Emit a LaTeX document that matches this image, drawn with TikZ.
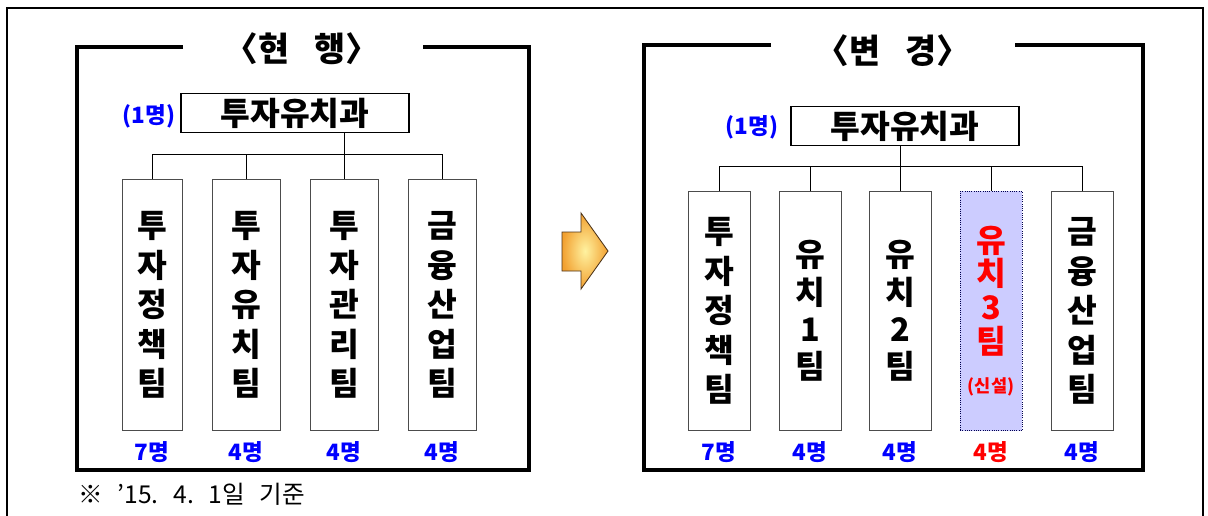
\documentclass[tikz,border=0pt]{standalone}
\usepackage{fontspec}
\newfontfamily\kr{Noto Sans CJK KR}
\definecolor{newfill}{RGB}{204,204,255}
\definecolor{arrowin}{RGB}{255,242,160}
\definecolor{arrowout}{RGB}{242,160,48}

\begin{document}
\begin{tikzpicture}[x=0.025cm, y=-0.025cm,
    team/.style={draw=black!70, line width=0.6pt, fill=white, inner sep=0pt,
        minimum width=1.55cm, align=center, font=\kr\bfseries\fontsize{23}{28}\selectfont},
    head/.style={draw=black, line width=1.1pt, minimum width=5.7cm, minimum height=0.98cm,
        inner sep=0pt, font=\kr\bfseries\fontsize{23}{28}\selectfont},
    cnt/.style={text=blue, inner sep=0pt, font=\kr\bfseries\fontsize{16}{18}\selectfont},
    title/.style={inner sep=0pt, font=\kr\bfseries\fontsize{24}{28}\selectfont},
    panel/.style={line width=2.2pt},
    tree/.style={line width=0.7pt}]
    \useasboundingbox (0,0) rectangle (1208,515);
    %% outer frame
    \draw[line width=0.8pt] (7,530) -- (7,8) -- (1203,8) -- (1203,530);

    %% current organisation
    \draw[panel] (183,47) -- (77,47) -- (77,470) -- (529,470) -- (529,47) -- (423,47);
    \node[title] (curtitle) at (302,49) {〈현\hspace{0.75em}행〉};
    \node[head] (curhead) at (295,113) {투자유치과};
    \node[cnt] (curhc) at (149,116) {(1명)};
    \node[team, minimum width=1.5cm, minimum height=6.275cm] (cur1) at (152,305) {투\\자\\정\\책\\팀};
    \node[team, minimum width=1.7cm, minimum height=6.275cm] (cur2) at (246,305) {투\\자\\유\\치\\팀};
    \node[team, minimum width=1.7cm, minimum height=6.275cm] (cur3) at (344,305) {투\\자\\관\\리\\팀};
    \node[team, minimum width=1.7cm, minimum height=6.275cm] (cur4) at (442,305) {금\\융\\산\\업\\팀};
    % tree drops from the head over the third team
    \coordinate (curbar) at (344,154);
    \draw[tree] (curhead.south -| curbar) -- (cur3.north);
    \foreach \b in {cur1,cur2,cur4}
        \draw[tree] (\b.north) |- (curbar);
    \node[cnt] (curn1) at (152,452) {7명};
    \node[cnt] (curn2) at (246,452) {4명};
    \node[cnt] (curn3) at (344,452) {4명};
    \node[cnt] (curn4) at (442,452) {4명};

    %% arrow
    \shadedraw[draw=black!60!brown, line width=0.6pt, inner color=arrowin, outer color=arrowout]
        (562,232) -- (581,232) -- (581,213) -- (608,251) -- (581,289) -- (581,271) -- (562,271) -- cycle;

    %% changed organisation
    \draw[panel] (771,45) -- (644,45) -- (644,470) -- (1143,470) -- (1143,45) -- (1015,45);
    \node[title] (newtitle) at (893,51) {〈변\hspace{0.75em}경〉};
    \node[head] (newhead) at (905,126) {투자유치과};
    \node[cnt] (newhc) at (752,127) {(1명)};
    \node[team, minimum height=5.975cm] (new1) at (719,311) {투\\자\\정\\책\\팀};
    \node[team, minimum height=5.975cm, font=\kr\bfseries\fontsize{23}{26.5}\selectfont] (new2) at (810,311) {유\\치\\1\\팀};
    \node[team, minimum height=5.975cm, font=\kr\bfseries\fontsize{23}{26.5}\selectfont] (new3) at (900,311) {유\\치\\2\\팀};
    \node[team, minimum height=5.975cm, fill=newfill, draw=blue!30!black, densely dotted, text=red,
        font=\kr\bfseries\fontsize{23}{24}\selectfont] (new4) at (991,311)
        {유\\치\\3\\팀\\[4pt]{\fontsize{12.5}{14}\selectfont(신설)}};
    \node[team, minimum height=5.975cm] (new5) at (1082,311) {금\\융\\산\\업\\팀};
    \coordinate (newbar) at (900,166);
    \draw[tree] (newhead.south -| newbar) -- (new3.north);
    \foreach \b in {new1,new2,new4,new5}
        \draw[tree] (\b.north) |- (newbar);
    \node[cnt] (newn1) at (719,452) {7명};
    \node[cnt] (newn2) at (810,452) {4명};
    \node[cnt] (newn3) at (900,452) {4명};
    \node[cnt, text=red] (newn4) at (991,452) {4명};
    \node[cnt] (newn5) at (1082,452) {4명};

    %% note
    \node[anchor=west, inner sep=0pt, font=\kr\fontsize{17.5}{20}\selectfont] (note) at (78,494)
        {※\hspace{0.6em}’15.\hspace{0.6em}4.\hspace{0.6em}1일\hspace{0.6em}기준};
\end{tikzpicture}
\end{document}
